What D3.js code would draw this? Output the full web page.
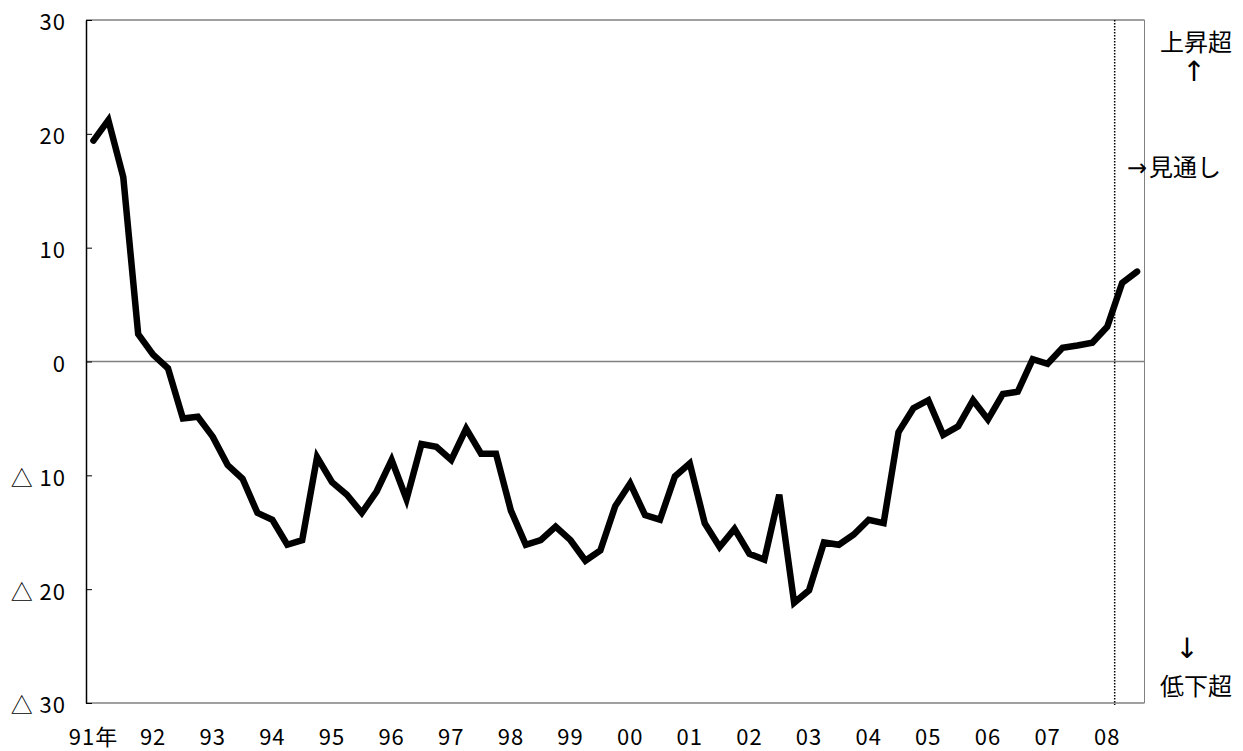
<!DOCTYPE html>
<html>
<head>
<meta charset="utf-8">
<script src="https://cdn.jsdelivr.net/npm/d3@7"></script>
<style>
  body { margin: 0; background: #fff; }
  text { font-family: "Noto Sans CJK JP", "Noto Sans", sans-serif; fill: #000; }
</style>
</head>
<body>
<svg id="chart" width="1243" height="751"></svg>
<script>
// Year labels on the x axis (one per 4 quarters)
const yearLabels = ["91年", "92", "93", "94", "95", "96", "97", "98", "99", "00",
                    "01", "02", "03", "04", "05", "06", "07", "08"];

// Quarterly DI values, 91 Q1 .. 08 Q3 (last two are outlook)
const values = [
  19.4, 21.2, 16.2, 2.4,
  0.6, -0.6, -5.0, -4.85,
  -6.6, -9.1, -10.3, -13.3,
  -13.9, -16.1, -15.7, -8.4,
  -10.6, -11.7, -13.3, -11.4,
  -8.65, -12.1, -7.25, -7.5,
  -8.65, -5.9, -8.1, -8.1,
  -13.1, -16.1, -15.7, -14.5,
  -15.7, -17.5, -16.6, -12.7,
  -10.7, -13.5, -13.9, -10.1,
  -8.95, -14.2, -16.3, -14.7,
  -16.9, -17.4, -11.7, -21.2,
  -20.1, -15.9, -16.1, -15.2,
  -13.9, -14.2, -6.2, -4.1,
  -3.4, -6.45, -5.7, -3.4,
  -5.1, -2.85, -2.65, 0.2,
  -0.2, 1.2, 1.4, 1.65,
  3.05, 6.9, 7.9
];

const yTicks = [30, 20, 10, 0, -10, -20, -30];
const outlookStart = 69; // first outlook quarter (08 Q2)

const quarters = values.map((v, i) => i);

const svg = d3.select("#chart");
const pLeft = 86, pRight = 1144.5, pTop = 20, pBottom = 703;

const x = d3.scaleBand().domain(quarters).range([pLeft, pRight]);
const y = d3.scaleLinear().domain([-30, 30]).range([pBottom, pTop]);

// frame: top, right, bottom in grey
svg.append("line").attr("x1", pLeft).attr("x2", pRight).attr("y1", pTop).attr("y2", pTop)
  .attr("stroke", "#808080").attr("stroke-width", 1.5);
svg.append("line").attr("x1", pRight).attr("x2", pRight).attr("y1", pTop).attr("y2", pBottom)
  .attr("stroke", "#808080").attr("stroke-width", 1);
svg.append("line").attr("x1", pLeft).attr("x2", pRight).attr("y1", pBottom).attr("y2", pBottom)
  .attr("stroke", "#808080").attr("stroke-width", 1.5);

// zero line
svg.append("line").attr("x1", pLeft).attr("x2", pRight).attr("y1", y(0)).attr("y2", y(0))
  .attr("stroke", "#808080").attr("stroke-width", 1.5);

// y axis (ticks point inward)
const yAxis = d3.axisLeft(y).tickValues(yTicks).tickSizeInner(-6).tickSizeOuter(0)
  .tickPadding(20)
  .tickFormat(d => d < 0 ? "△ " + (-d) : String(d));
const ga = svg.append("g").attr("transform", `translate(${pLeft},0)`).call(yAxis);
ga.select(".domain").attr("stroke", "#000").attr("stroke-width", 1.5);
ga.selectAll(".tick line").attr("stroke", "#000").attr("stroke-width", 1);
ga.selectAll(".tick text").attr("font-size", 22).attr("dy", "0.45em")
  .attr("letter-spacing", 1)
  .attr("font-family", "'Noto Sans CJK JP', sans-serif");

// x labels: one per year, at the first quarter of each year
svg.append("g").selectAll("text").data(yearLabels).join("text")
  .attr("x", (d, i) => x(i * 4) + x.bandwidth() / 2)
  .attr("y", 745)
  .attr("text-anchor", "middle")
  .attr("font-size", 22)
  .attr("letter-spacing", 1)
  .text(d => d);

// outlook divider
const xDiv = x(outlookStart);
svg.append("line").attr("x1", xDiv).attr("x2", xDiv).attr("y1", pTop).attr("y2", pBottom + 2)
  .attr("stroke", "#000").attr("stroke-width", 1.5).attr("stroke-dasharray", "1.5,1.5");

// main line
const line = d3.line()
  .x((d, i) => x(i) + x.bandwidth() / 2)
  .y(d => y(d));
svg.append("path").datum(values)
  .attr("d", line)
  .attr("fill", "none")
  .attr("stroke", "#000")
  .attr("stroke-width", 6.5)
  .attr("stroke-linejoin", "miter")
  .attr("stroke-linecap", "round");

// right-side notes
const notes = [
  { t: "上昇超", x: 1196, y: 51, a: "middle", s: 24 },
  { t: "↑", x: 1194, y: 81, a: "middle", s: 28, f: "DejaVu Sans" },
  { t: "→", x: 1127, y: 176, a: "start", s: 24, f: "DejaVu Sans" },
  { t: "見通し", x: 1149, y: 176, a: "start", s: 24 },
  { t: "↓", x: 1187, y: 658, a: "middle", s: 28, f: "DejaVu Sans" },
  { t: "低下超", x: 1196, y: 695, a: "middle", s: 24 }
];
svg.append("g").selectAll("text").data(notes).join("text")
  .attr("x", d => d.x).attr("y", d => d.y)
  .attr("text-anchor", d => d.a)
  .attr("font-size", d => d.s)
  .style("font-family", d => d.f || null)
  .text(d => d.t);
</script>
</body>
</html>
